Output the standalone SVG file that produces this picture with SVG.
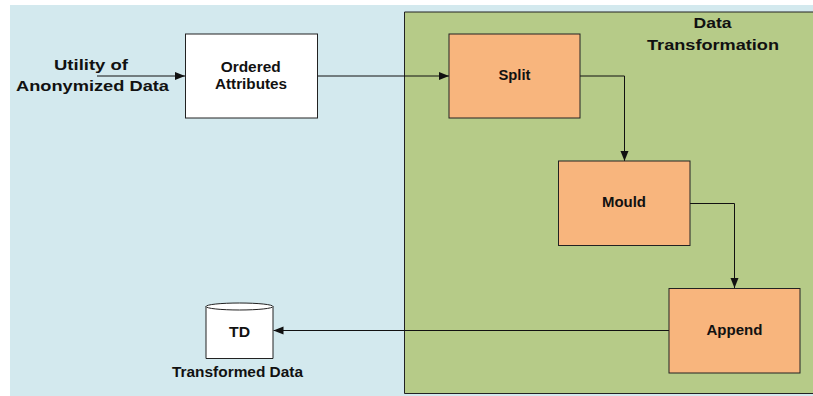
<svg xmlns="http://www.w3.org/2000/svg" width="813" height="396" viewBox="0 0 813 396">
  <style>
    text { font-family: "Liberation Sans", Arial, sans-serif; font-weight: bold; text-anchor: middle; fill: #111; }
    .node rect { stroke: #222; stroke-width: 1; }
    .white { fill: #ffffff; }
    .orange { fill: #F8B57D; }
    .conn { fill: none; stroke: #111; stroke-width: 1; }
    .lbl13 { font-size: 14px; }
    .lbl16 { font-size: 15.5px; }
  </style>
  <defs>
    <marker id="arrow" viewBox="0 0 10 10" refX="10" refY="5" markerWidth="10" markerHeight="10" markerUnits="userSpaceOnUse" orient="auto">
      <path d="M0,1 L10,5 L0,9 Z" fill="#111"/>
    </marker>
  </defs>

  <!-- background panels -->
  <rect x="10" y="5" width="803" height="391" fill="#D3E9EE"/>
  <path d="M813,12 H404.5 V393.5 H813" fill="#B6CB88" stroke="#222" stroke-width="1"/>

  <!-- input label -->
  <g id="utility">
    <text class="lbl16" x="91" y="70" fill="#222" textLength="74" lengthAdjust="spacingAndGlyphs">Utility of</text>
    <text class="lbl16" x="92.5" y="91" fill="#222" textLength="153" lengthAdjust="spacingAndGlyphs">Anonymized Data</text>
  </g>

  <g id="group-title">
    <text class="lbl16" x="712.5" y="28.3" textLength="38" lengthAdjust="spacingAndGlyphs">Data</text>
    <text class="lbl16" x="713" y="50" textLength="132" lengthAdjust="spacingAndGlyphs">Transformation</text>
  </g>

  <!-- connectors -->
  <g id="connectors">
    <path class="conn" d="M97,76 H185" marker-end="url(#arrow)"/>
    <path class="conn" d="M317,76 H449" marker-end="url(#arrow)"/>
    <path class="conn" d="M580,76 H624.5 V161" marker-end="url(#arrow)"/>
    <path class="conn" d="M690,203.5 H734.5 V288" marker-end="url(#arrow)"/>
    <path class="conn" d="M669,330.5 H273.5" marker-end="url(#arrow)"/>
  </g>

  <g id="ordered" class="node">
    <rect class="white" x="185.5" y="34" width="132" height="84"/>
    <text class="lbl13" x="250.7" y="71.7" textLength="60" lengthAdjust="spacingAndGlyphs">Ordered</text>
    <text class="lbl13" x="251" y="89.3" textLength="72" lengthAdjust="spacingAndGlyphs">Attributes</text>
  </g>

  <g id="split" class="node">
    <rect class="orange" x="449" y="34" width="131" height="84"/>
    <text class="lbl13" x="514.5" y="79.5" textLength="32" lengthAdjust="spacingAndGlyphs">Split</text>
  </g>

  <g id="mould" class="node">
    <rect class="orange" x="558.5" y="161" width="131.5" height="84.5"/>
    <text class="lbl13" x="624" y="207.3" textLength="44" lengthAdjust="spacingAndGlyphs">Mould</text>
  </g>

  <g id="append" class="node">
    <rect class="orange" x="669" y="288.5" width="131" height="84.5"/>
    <text class="lbl13" x="734.5" y="335" textLength="56" lengthAdjust="spacingAndGlyphs">Append</text>
  </g>

  <g id="td">
    <path d="M206,306.5 V358.5 H273 V306.5" fill="#ffffff" stroke="#222" stroke-width="1"/>
    <ellipse cx="239.5" cy="306.5" rx="33.5" ry="3.5" fill="#ffffff" stroke="#222" stroke-width="1"/>
    <text class="lbl13" x="239.6" y="336.7" textLength="21" lengthAdjust="spacingAndGlyphs">TD</text>
    <text class="lbl13" x="237.5" y="377" textLength="131" lengthAdjust="spacingAndGlyphs">Transformed Data</text>
  </g>
</svg>
